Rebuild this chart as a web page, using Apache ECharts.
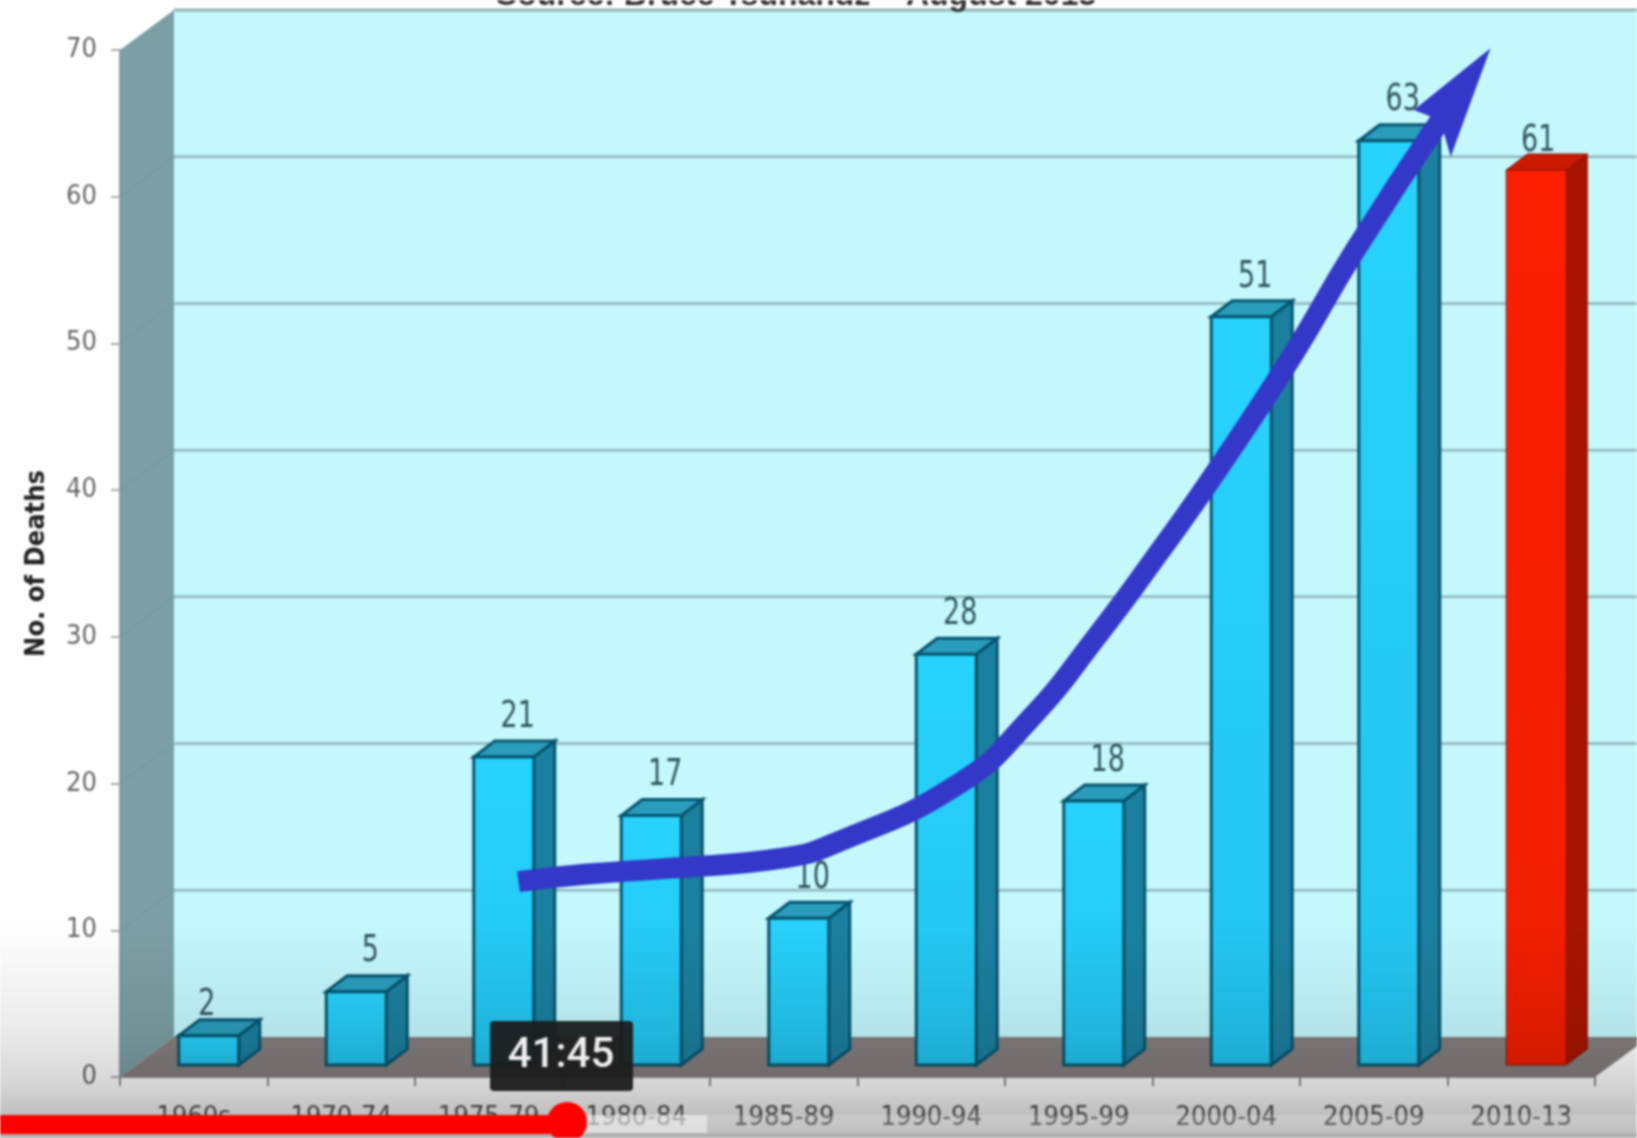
<!DOCTYPE html>
<html><head><meta charset="utf-8">
<style>html,body{margin:0;padding:0;background:#fff;overflow:hidden}#c{width:1637px;height:1138px;filter:blur(1px)}</style>
<script src="https://cdn.jsdelivr.net/npm/echarts@6/dist/echarts.min.js"></script>
</head><body><div id="c"></div>
<script>
const categories = ['1960s','1970-74','1975-79','1980-84','1985-89','1990-94','1995-99','2000-04','2005-09','2010-13'];
const deaths = [2,5,21,17,10,28,18,51,63,61];
const yTicks = [0,10,20,30,40,50,60,70];
const trendIdx = [2.10,2.55,3.11,3.89,4.24,5.09,5.56,6.02,6.44,6.84,7.35,7.77,8.35];
const trendVal = [12.5,13.0,13.4,14.1,15.1,19.2,23.5,29.2,34.9,40.6,48.4,55.5,64.4];
const headIdx = [8.69,8.17,8.35,8.42];
const headVal = [69.3,65.1,64.4,61.9];
const sourceText = 'Source: Bruce Tsuhandz \u2013 August 2013';
const timeText = '41:45';

const FONT = '"DejaVu Sans Condensed","Liberation Sans",sans-serif';
const W = 1637, DX = 54, DY = -40, BX = 15, BY = -12, BAR = 60, BDX = 21, BDY = -16;

function poly(points, fill, stroke, lw) {
  return {type:'polygon', shape:{points}, style:{fill, stroke:stroke||'none', lineWidth:lw||0}};
}
function renderWalls(params, api) {
  const o = api.coord([0,0]), band = api.size([1,0])[0];
  const x0 = o[0]-band/2, y0 = o[1], x1 = x0+band*categories.length;
  const yTop = api.coord([0,70])[1];
  const c = [];
  c.push({type:'rect', shape:{x:x0+DX,y:yTop+DY,width:W-x0-DX,height:y0-yTop}, style:{fill:'#c4f8fd'}});
  c.push(poly([[x0,yTop],[x0+DX,yTop+DY],[x0+DX,y0+DY],[x0,y0]],'#7c9fa5'));
  c.push(poly([[x0,y0],[x0+DX,y0+DY],[W,y0+DY],[x1+DX,y0+DY],[x1,y0]],'#867e7e'));
  c.push({type:'line', shape:{x1:x0+DX,y1:yTop+DY,x2:W,y2:yTop+DY}, style:{stroke:'#93b4b8',lineWidth:3}});
  yTicks.slice(1,-1).forEach(v=>{
    const y = api.coord([0,v])[1];
    c.push({type:'line', shape:{x1:x0+DX,y1:y+DY,x2:W,y2:y+DY}, style:{stroke:'#8fb6ba',lineWidth:2.5}});
    c.push({type:'line', shape:{x1:x0,y1:y,x2:x0+DX,y2:y+DY}, style:{stroke:'#769aa0',lineWidth:1.5}});
  });
  return {type:'group', children:c};
}
function renderBar(params, api) {
  const i = api.value(0), v = api.value(1);
  const last = i === categories.length-1, first = i === 0;
  const base = api.coord([i,0]), t = api.coord([i,v]);
  const xl = base[0]+BX-BAR/2, xr = xl+BAR, yb = base[1]+BY, yt = t[1]+BY;
  const front = last ? ['#fc2000','#f01e00'] : ['#27d3fd','#22c4f0'];
  const side = last ? '#a81400' : '#1b809f';
  const tp = last ? '#cc1a00' : '#2a9dbc';
  const edge = last ? '#8a1000' : '#06556f';
  const lw = last ? 1 : 3;
  const lx = last ? 2 : first ? -2 : 14;
  const ly = last ? -13 : first ? -14 : -24;
  return {type:'group', children:[
    poly([[xr,yb],[xr+BDX,yb+BDY],[xr+BDX,yt+BDY],[xr,yt]],side,edge,lw),
    poly([[xl,yt],[xl+BDX,yt+BDY],[xr+BDX,yt+BDY],[xr,yt]],tp,edge,lw),
    {type:'rect',shape:{x:xl,y:yt,width:BAR,height:yb-yt},
      style:{fill:{type:'linear',x:0,y:0,x2:0,y2:1,colorStops:[{offset:0,color:front[0]},{offset:1,color:front[1]}]},stroke:edge,lineWidth:lw}},
    {type:'text',x:xl+BAR/2+lx,y:yt+BDY+ly,scaleY:1.25,style:{text:String(v),x:0,y:0,align:'center',verticalAlign:'middle',
      font:'30px '+FONT,fill:'#33575f'}}
  ]};
}
function renderTrend(params, api) {
  const o = api.coord([0,0]), band = api.size([1,0])[0], unit = o[1]-api.coord([0,1])[1];
  const P = (i,v)=>[o[0]+BX+band*i, o[1]+BY-unit*v];
  const pts = trendIdx.map((x,k)=>P(x,trendVal[k]));
  const head = headIdx.map((x,k)=>P(x,headVal[k]));
  return {type:'group', children:[
    {type:'polyline',shape:{points:pts,smooth:0.5},style:{stroke:'#3438c9',lineWidth:21,fill:'none',lineCap:'butt',lineJoin:'round'}},
    poly(head,'#3438c9')
  ]};
}
const chart = echarts.init(document.getElementById('c'),null,{renderer:'canvas'});
chart.setOption({
  animation:false,
  backgroundColor:'#fff',
  grid:{left:120,right:42,top:50,bottom:61,containLabel:false},
  xAxis:{type:'category',data:categories,boundaryGap:true,
    axisLine:{show:true,lineStyle:{color:'#999',width:2}},
    axisTick:{show:true,alignWithLabel:false,length:9,lineStyle:{color:'#888',width:2}},
    axisLabel:{fontFamily:FONT,fontSize:27,color:'#555',margin:27,interval:0},splitLine:{show:false}},
  yAxis:{type:'value',min:0,max:70,interval:10,
    name:'No. of Deaths',nameLocation:'middle',nameGap:70,
    nameTextStyle:{fontFamily:FONT,fontSize:27,fontWeight:'bold',color:'#222'},
    axisLine:{show:true,lineStyle:{color:'#999',width:2}},
    axisTick:{show:true,length:9,lineStyle:{color:'#aaa',width:2}},
    axisLabel:{fontFamily:FONT,fontSize:27,color:'#666',margin:23},splitLine:{show:false}},
  series:[
    {type:'custom',z:1,silent:true,clip:false,data:[[0]],renderItem:renderWalls},
    {type:'custom',z:2,silent:true,clip:false,data:categories.map((c,i)=>[i,deaths[i]]),renderItem:renderBar,encode:{x:0,y:1}},
    {type:'custom',z:3,silent:true,clip:false,data:[[0]],renderItem:renderTrend}
  ],
  graphic:[
    {type:'text',z:5,style:{text:sourceText,x:796,y:-4,align:'center',verticalAlign:'middle',font:'bold 32px "Liberation Sans",sans-serif',fill:'#333'}},
    {type:'rect',z:50,shape:{x:0,y:920,width:W,height:218},style:{fill:{type:'linear',x:0,y:0,x2:0,y2:1,colorStops:[{offset:0,color:'rgba(0,0,0,0)'},{offset:.5,color:'rgba(0,0,0,0.08)'},{offset:.75,color:'rgba(0,0,0,0.16)'},{offset:1,color:'rgba(0,0,0,0.32)'}]}}},
    {type:'rect',z:51,shape:{x:0,y:1115,width:W,height:18},style:{fill:'rgba(255,255,255,0.2)'}},
    {type:'rect',z:52,shape:{x:567,y:1115,width:140,height:18},style:{fill:'rgba(255,255,255,0.45)'}},
    {type:'rect',z:53,shape:{x:0,y:1115,width:567,height:19},style:{fill:'#ff0000'}},
    {type:'circle',z:54,shape:{cx:567,cy:1122,r:20},style:{fill:'#ff0000'}},
    {type:'rect',z:55,shape:{x:490,y:1021,width:143,height:70,r:4},style:{fill:'rgba(28,28,28,0.95)'}},
    {type:'text',z:56,style:{text:timeText,x:561,y:1056,align:'center',verticalAlign:'middle',font:'500 42px Roboto,sans-serif',fill:'#eee'}}
  ]
});
</script></body></html>
